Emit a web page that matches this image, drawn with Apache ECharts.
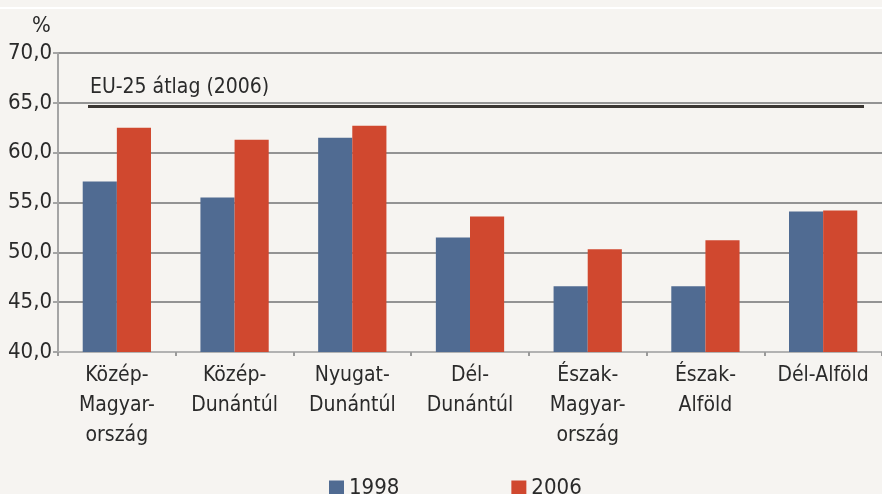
<!DOCTYPE html>
<html lang="hu">
<head>
	<meta charset="UTF-8">
	<title>Foglalkoztatási ráta régiónként</title>
	<script src="https://cdn.jsdelivr.net/npm/echarts@6/dist/echarts.min.js"></script>
	<style>
		html,body{margin:0;padding:0;background:#f6f4f1;}
		#main{width:882px;height:494px;}
	</style>
</head>
<body>
	<div id="main"></div>
	<script>
		var regiok = ['Közép-\nMagyar-\nország', 'Közép-\nDunántúl', 'Nyugat-\nDunántúl', 'Dél-\nDunántúl', 'Észak-\nMagyar-\nország', 'Észak-\nAlföld', 'Dél-Alföld'];
		var ev1998 = [57.1, 55.5, 61.5, 51.5, 46.6, 46.6, 54.1];
		var ev2006 = [62.5, 61.3, 62.7, 53.6, 50.3, 51.2, 54.2];
		var euAtlag = 64.7;
		var euFelirat = 'EU-25 átlag (2006)';

		var betu = "'Liberation Sans Narrow', 'DejaVu Sans Condensed', sans-serif";
		var myChart = echarts.init(document.getElementById('main'));
		var option = {
			backgroundColor: '#f6f4f1',
			animation: false,
			textStyle: { fontFamily: betu },
			graphic: [
				{ type: 'rect', left: 0, top: 7, shape: { width: 882, height: 2 }, style: { fill: '#ffffff' }, silent: true }
			],
			title: {
				text: '%', left: 27, top: 10,
				textStyle: { fontFamily: betu, fontSize: 22, fontWeight: 'normal', color: '#2a2a2a' }
			},
			legend: {
				bottom: -10, left: 324,
				itemWidth: 15, itemHeight: 15, itemGap: 112,
				icon: 'rect',
				textStyle: { fontFamily: betu, fontSize: 22, color: '#2a2a2a' },
				data: ['1998', '2006']
			},
			grid: { left: 58, right: -6, top: 53, bottom: 142 },
			xAxis: {
				type: 'category',
				data: regiok,
				axisLine: { lineStyle: { color: '#b2b2b2', width: 2 } },
				axisTick: { show: true, length: 4, lineStyle: { color: '#9a9a9a', width: 2 } },
				axisLabel: { interval: 0, fontFamily: betu, fontSize: 21, color: '#2a2a2a', lineHeight: 30, margin: 9 }
			},
			yAxis: {
				type: 'value',
				min: 40, max: 70, interval: 5,
				axisLine: { show: true, lineStyle: { color: '#a5a5a5', width: 2 } },
				axisTick: { show: true, length: 5, lineStyle: { color: '#a5a5a5', width: 2 } },
				splitLine: { lineStyle: { color: '#939393', width: 2 } },
				axisLabel: {
					fontFamily: betu, fontSize: 22, color: '#2a2a2a', margin: 6,
					formatter: function (v) { return v.toFixed(1).replace('.', ','); }
				}
			},
			series: [
				{
					name: '1998', type: 'bar', data: ev1998,
					barGap: '0%', barCategoryGap: '42%',
					itemStyle: { color: '#506b92' },
					markLine: {
						silent: true, symbol: 'none',
						lineStyle: { color: '#3a3632', width: 3, type: 'solid' },
						label: {
							show: true, position: 'insideStartTop', formatter: euFelirat,
							fontFamily: betu, fontSize: 21, color: '#2a2a2a', distance: [2, 8]
						},
						data: [[{ x: 88, yAxis: euAtlag }, { x: 864, yAxis: euAtlag }]]
					}
				},
				{
					name: '2006', type: 'bar', data: ev2006,
					itemStyle: { color: '#d0482f' }
				}
			]
		};
		myChart.setOption(option);
	</script>
</body>
</html>
